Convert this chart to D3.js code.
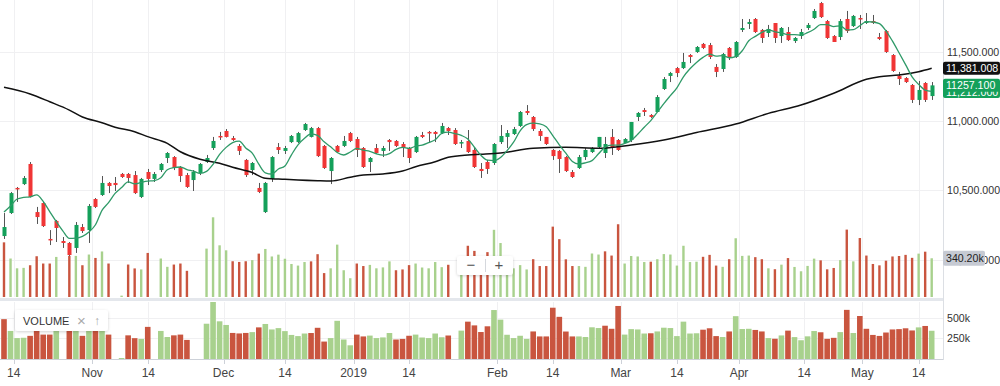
<!DOCTYPE html>
<html>
<head>
<meta charset="utf-8">
<script src="https://cdn.jsdelivr.net/npm/d3@7"></script>
<style>
  body { margin: 0; background: #fff; overflow: hidden; }
  svg { display: block; font-family: "Liberation Sans", Arial, Helvetica, sans-serif; }
</style>
</head>
<body>
<svg width="1000" height="386"></svg>
<script>
// daily candles, Oct 2018 - May 2019
const opens = [10170,10336,10517,10545,10690,10343,10408,10149,10279,10134,
  10120,10084,10235,10213,10437,10466,10553,10553,10618,10618,
  10610,10452,10632,10582,10646,10733,10740,10668,10610,10574,
  10625,10704,10805,10892,10928,10877,10820,10719,10646,10517,
  10343,10582,10812,10784,10848,10848,10935,10885,10949,10820,
  10639,10820,10820,10913,10870,10805,10704,10805,10784,10863,
  10856,10834,10805,10776,10899,10921,10921,10913,10949,10935,
  10841,10856,10791,10654,10704,10697,10848,10885,10906,10964,
  11072,11029,10928,10885,10791,10784,10740,10632,10661,10740,
  10776,10812,10769,10885,10863,10841,10863,11029,11079,11043,
  11065,11231,11325,11382,11382,11476,11498,11556,11548,11390,
  11375,11527,11462,11657,11700,11736,11657,11635,11707,11613,
  11642,11577,11613,11671,11743,11851,11721,11613,11606,11736,
  11685,11743,11707,11721,11606,11649,11476,11325,11310,11260,
  11152,11274,11180];
const highs = [10336,10488,10524,10603,10704,10380,10416,10213,10286,10163,
  10127,10271,10257,10401,10444,10603,10560,10596,10625,10625,
  10639,10589,10654,10632,10697,10776,10747,10675,10625,10646,
  10697,10755,10885,10921,10942,10892,10834,10726,10704,10553,
  10560,10747,10841,10820,10899,10921,10986,10957,10957,10827,
  10740,10827,10892,10921,10885,10812,10740,10834,10820,10870,
  10863,10848,10812,10892,10921,10928,10928,10986,10957,10949,
  10863,10935,10805,10697,10719,10841,10971,10935,10957,11072,
  11115,11036,10942,10885,10798,10791,10747,10646,10755,10805,
  10812,10885,10885,10942,10870,10877,10993,11065,11094,11050,
  11187,11317,11354,11390,11491,11483,11541,11563,11563,11411,
  11491,11534,11577,11736,11736,11743,11664,11693,11707,11678,
  11678,11606,11664,11707,11808,11859,11729,11620,11736,11794,
  11765,11765,11779,11765,11635,11657,11483,11354,11317,11267,
  11289,11281,11281];
const lows = [10149,10329,10416,10538,10448,10257,10235,10105,10127,10084,
  10026,10048,10192,10120,10372,10459,10480,10495,10589,10553,
  10473,10444,10538,10560,10632,10697,10646,10560,10517,10495,
  10610,10697,10791,10863,10881,10856,10755,10596,10610,10480,
  10336,10560,10762,10762,10841,10841,10928,10881,10740,10654,
  10545,10769,10812,10848,10740,10661,10632,10762,10740,10784,
  10812,10740,10697,10769,10877,10848,10848,10906,10899,10827,
  10805,10769,10661,10589,10618,10683,10834,10805,10899,10957,
  11043,10928,10856,10827,10719,10625,10632,10589,10654,10719,
  10769,10805,10733,10755,10784,10841,10848,11000,11036,11022,
  11065,11224,11281,11317,11375,11418,11491,11519,11447,11317,
  11354,11440,11455,11642,11664,11635,11563,11606,11563,11563,
  11577,11563,11592,11657,11736,11743,11592,11570,11584,11635,
  11678,11664,11700,11700,11584,11491,11354,11260,11274,11130,
  11115,11137,11152];
const closes = [10235,10480,10509,10589,10452,10307,10242,10141,10228,10120,
  10033,10250,10206,10387,10380,10553,10531,10538,10596,10589,
  10480,10582,10582,10618,10690,10769,10661,10603,10524,10632,
  10690,10733,10856,10885,10885,10863,10784,10610,10697,10488,
  10553,10740,10791,10805,10892,10913,10978,10949,10747,10661,
  10733,10776,10856,10856,10791,10668,10733,10769,10805,10848,
  10820,10805,10733,10885,10885,10913,10906,10964,10928,10834,
  10848,10776,10668,10639,10654,10834,10892,10913,10942,11065,
  11058,10942,10892,10834,10747,10726,10639,10596,10740,10791,
  10805,10885,10834,10812,10791,10870,10993,11058,11065,11029,
  11173,11303,11346,11346,11426,11462,11534,11527,11462,11354,
  11483,11455,11570,11671,11714,11642,11599,11664,11599,11671,
  11584,11599,11642,11693,11794,11750,11599,11570,11721,11649,
  11758,11736,11721,11707,11592,11498,11361,11303,11281,11152,
  11224,11152,11257.1];
// volume in thousands
const volumes = [480,338,252,256,279,358,294,294,352,0,
  361,361,279,373,343,400,294,0,12,285,
  251,242,387,0,338,265,285,294,230,0,
  0,425,700,454,410,314,308,314,324,381,
  422,356,372,336,290,276,307,313,376,210,
  252,460,235,165,294,272,282,252,260,313,
  235,242,280,294,259,252,307,262,283,0,
  342,450,405,325,394,590,474,292,252,280,
  242,332,272,272,618,508,331,272,272,265,
  382,373,401,364,639,294,360,356,307,310,
  332,377,373,276,450,307,310,353,370,276,
  265,332,516,361,364,350,332,252,244,284,
  342,264,226,273,337,322,243,255,324,592,
  313,518,364,290,278,319,356,360,370,344,
  381,398,340.2];
// u = up day (green volume), d = down day (red volume)
const volDir = ["duuudddduu","dudududdud","duduuudddu","uuuuudddud","uuuuuuuddd",
  "uuuudduuuu","ddduuuuudd","udddduuuuu","uddddddduu","uuddduuuud",
  "uuuuuuuddd","uduuuddudu","duuuudddud","uddddddddd","udu"].join("");

// short average: first points come from before the window
const maShortHead = [10343, 10387, 10437, 10449];
// long average, read at these candle indexes
const maLongIdx = [0,4,7,10,12,15,17,20,22,25,27,30,33,35,38,40,43,45,48,50,53,55,58,61,63,66,68,71,73,76,81,86,91,96,101,106,112,117,122,127,132,134,137,140,142];
const maLongVal = [11243,11195,11139,11079,11029,10988,10955,10923,10887,10839,10778,10724,10695,10666,10628,10587,10579,10574,10569,10567,10594,10610,10618,10639,10670,10706,10738,10755,10760,10769,10803,10810,10803,10827,10863,10917,10978,11055,11115,11200,11301,11320,11332,11356,11381.008];
const maShortLast = 11212;

const tickLabels = ['14','Nov','14','Dec','14','2019','14','Feb','14','Mar','14','Apr','14','May','14'];
const tickSlots = [1.5,13.5,22.1,33.6,43,53.5,62,75.5,84,94.4,103,112.5,122.5,131.4,140];
const priceTicks = [10000, 10500, 11000, 11500];
const volTicks = [250, 500];

const data = opens.map((o, i) => ({
  i, o, h: highs[i], l: lows[i], c: closes[i],
  v: volumes[i], up: volDir[i] === 'u'
}));
const maShort = closes.map((c, i) =>
  i < 4 ? maShortHead[i] : d3.mean(closes.slice(i - 4, i + 1)));
const maLong = maLongIdx.map((k, j) => ({ i: k, v: maLongVal[j] }));

const svg = d3.select('svg');
const right = 943;
const x = d3.scaleLinear().domain([0, 142]).range([4, 931.7]);
const y = d3.scaleLinear().domain([10000, 11500]).range([259.6, 51.7]);
const vTop = d3.scaleLinear().domain([0, 700]).range([297, 217.3]);
const vBot = d3.scaleLinear().domain([0, 500]).range([359, 317.5]);

const upC = '#14a05a', downC = '#f03535';
const volUp = '#a8d18d', volDown = '#c9553f';
const grid = '#f0f0f2';
const fs = 10.6;

const defs = svg.append('defs');
defs.append('clipPath').attr('id', 'mainClip')
  .append('rect').attr('x', 0).attr('y', 0).attr('width', right).attr('height', 297);
defs.append('clipPath').attr('id', 'lowClip')
  .append('rect').attr('x', 0).attr('y', 302).attr('width', right).attr('height', 57);
const sh = defs.append('filter').attr('id', 'shadow')
  .attr('x', '-20%').attr('y', '-40%').attr('width', '140%').attr('height', '180%');
sh.append('feDropShadow').attr('dx', 0).attr('dy', 1).attr('stdDeviation', 1.5)
  .attr('flood-color', '#000').attr('flood-opacity', 0.18);

// grid
svg.append('g').selectAll('line').data(priceTicks).join('line')
  .attr('x1', 0).attr('x2', right)
  .attr('y1', d => Math.round(y(d)) + 0.5).attr('y2', d => Math.round(y(d)) + 0.5)
  .attr('stroke', grid);
svg.append('g').selectAll('line').data(tickSlots).join('line')
  .attr('x1', d => Math.round(x(d)) + 0.5).attr('x2', d => Math.round(x(d)) + 0.5)
  .attr('y1', 0).attr('y2', 297).attr('stroke', grid);
svg.append('g').selectAll('line').data(tickSlots).join('line')
  .attr('x1', d => Math.round(x(d)) + 0.5).attr('x2', d => Math.round(x(d)) + 0.5)
  .attr('y1', 302).attr('y2', 359).attr('stroke', grid);
svg.append('g').selectAll('line').data(volTicks).join('line')
  .attr('x1', 0).attr('x2', right)
  .attr('y1', d => Math.round(vBot(d)) + 0.5).attr('y2', d => Math.round(vBot(d)) + 0.5)
  .attr('stroke', grid);

// pane frame
svg.append('rect').attr('x', 0).attr('y', 298).attr('width', right).attr('height', 3).attr('fill', '#e4e7ec');
svg.append('line').attr('x1', 0).attr('x2', right + 1).attr('y1', 359.5).attr('y2', 359.5).attr('stroke', '#cdd1d8');
svg.append('line').attr('x1', right + 0.5).attr('x2', right + 0.5).attr('y1', 0).attr('y2', 360).attr('stroke', '#dcdfe4');

// volume overlay in the price pane
svg.append('g').attr('clip-path', 'url(#mainClip)')
  .selectAll('rect').data(data.filter(d => d.v > 0)).join('rect')
  .attr('x', d => x(d.i) - 1.2).attr('width', 2.4)
  .attr('y', d => vTop(d.v)).attr('height', d => vTop(0) - vTop(d.v))
  .attr('fill', d => d.up ? volUp : volDown);

// candles
const cg = svg.append('g').attr('clip-path', 'url(#mainClip)');
cg.selectAll('line').data(data).join('line')
  .attr('x1', d => Math.round(x(d.i)) + 0.5).attr('x2', d => Math.round(x(d.i)) + 0.5)
  .attr('y1', d => y(d.h)).attr('y2', d => y(d.l))
  .attr('stroke', '#555').attr('stroke-width', 1);
cg.selectAll('rect').data(data).join('rect')
  .attr('x', d => Math.round(x(d.i)) - 1.5).attr('width', 4)
  .attr('y', d => y(Math.max(d.o, d.c)))
  .attr('height', d => Math.max(1.5, Math.abs(y(d.o) - y(d.c))))
  .attr('fill', d => d.c >= d.o ? upC : downC);

// moving averages
cg.append('path').datum(maLong)
  .attr('d', d3.line().x(d => x(d.i)).y(d => y(d.v)).curve(d3.curveMonotoneX))
  .attr('fill', 'none').attr('stroke', '#111').attr('stroke-width', 1.5);
cg.append('path').datum(maShort)
  .attr('d', d3.line().x((d, i) => x(i)).y(d => y(d)).curve(d3.curveMonotoneX))
  .attr('fill', 'none').attr('stroke', '#2f9a68').attr('stroke-width', 1.3);

// volume pane
svg.append('g').attr('clip-path', 'url(#lowClip)')
  .selectAll('rect').data(data.filter(d => d.v > 0)).join('rect')
  .attr('x', d => x(d.i) - 2.8).attr('width', 5.6)
  .attr('y', d => vBot(d.v)).attr('height', d => vBot(0) - vBot(d.v))
  .attr('fill', d => d.up ? volUp : volDown);

// x axis
svg.append('g').selectAll('line').data(tickSlots).join('line')
  .attr('x1', d => Math.round(x(d)) + 0.5).attr('x2', d => Math.round(x(d)) + 0.5)
  .attr('y1', 360).attr('y2', 364).attr('stroke', '#cdd1d8');
svg.append('g').selectAll('text').data(tickLabels).join('text')
  .attr('x', (d, i) => x(tickSlots[i])).attr('y', 377)
  .attr('text-anchor', 'middle').attr('font-size', 12).attr('fill', '#444')
  .text(d => d);

// right axis
const fmt = d3.format(',.3f');
svg.append('g').selectAll('text').data(priceTicks).join('text')
  .attr('x', 947).attr('y', d => y(d) + 4)
  .attr('font-size', fs).attr('fill', '#333').text(d => fmt(d));
svg.append('g').selectAll('text').data(volTicks).join('text')
  .attr('x', 947).attr('y', d => vBot(d) + 4)
  .attr('font-size', fs).attr('fill', '#333').text(d => d + 'k');

// last values
const last = data[data.length - 1];
const lastLong = maLongVal[maLongVal.length - 1];
function tag(val, txt, fill, color) {
  const cy = y(val);
  svg.append('rect').attr('x', 943).attr('y', cy - 6.5).attr('width', 57).attr('height', 13)
    .attr('rx', 2).attr('fill', fill);
  svg.append('text').attr('x', 946).attr('y', cy + 4).attr('font-size', fs)
    .attr('fill', color).text(txt);
}
tag(maShortLast, fmt(maShortLast), upC, '#fff');
tag(last.c, d3.format('.3f')(last.c), upC, '#fff');
tag(lastLong, fmt(lastLong), '#111', '#fff');

const vy = vTop(last.v);
svg.append('rect').attr('x', 943).attr('y', vy - 7.5).attr('width', 42).attr('height', 15)
  .attr('rx', 2).attr('fill', '#c6cad3');
svg.append('text').attr('x', 946).attr('y', vy + 4).attr('font-size', fs)
  .attr('fill', '#222').text(d3.format('.2f')(last.v) + 'k');

// zoom buttons
const zb = svg.append('g').attr('transform', 'translate(457,256)');
zb.append('rect').attr('width', 56).attr('height', 19).attr('rx', 3)
  .attr('fill', '#fff').attr('filter', 'url(#shadow)');
zb.append('line').attr('x1', 28.5).attr('x2', 28.5).attr('y1', 3).attr('y2', 16).attr('stroke', '#d5d8dd');
zb.append('text').attr('x', 14).attr('y', 14).attr('text-anchor', 'middle')
  .attr('font-size', 15).attr('fill', '#555').text('−');
zb.append('text').attr('x', 42).attr('y', 14).attr('text-anchor', 'middle')
  .attr('font-size', 15).attr('fill', '#555').text('+');

// volume legend
const lg = svg.append('g').attr('transform', 'translate(15,310)');
lg.append('rect').attr('width', 93).attr('height', 21).attr('rx', 3)
  .attr('fill', '#fff').attr('filter', 'url(#shadow)');
lg.append('text').attr('x', 8).attr('y', 14.5).attr('font-size', 11)
  .attr('fill', '#333').text('VOLUME');
lg.append('text').attr('x', 62).attr('y', 15.5).attr('font-size', 15)
  .attr('fill', '#aaa').text('×');
lg.append('text').attr('x', 79).attr('y', 15).attr('font-size', 12)
  .attr('fill', '#aaa').text('↑');
</script>
</body>
</html>
